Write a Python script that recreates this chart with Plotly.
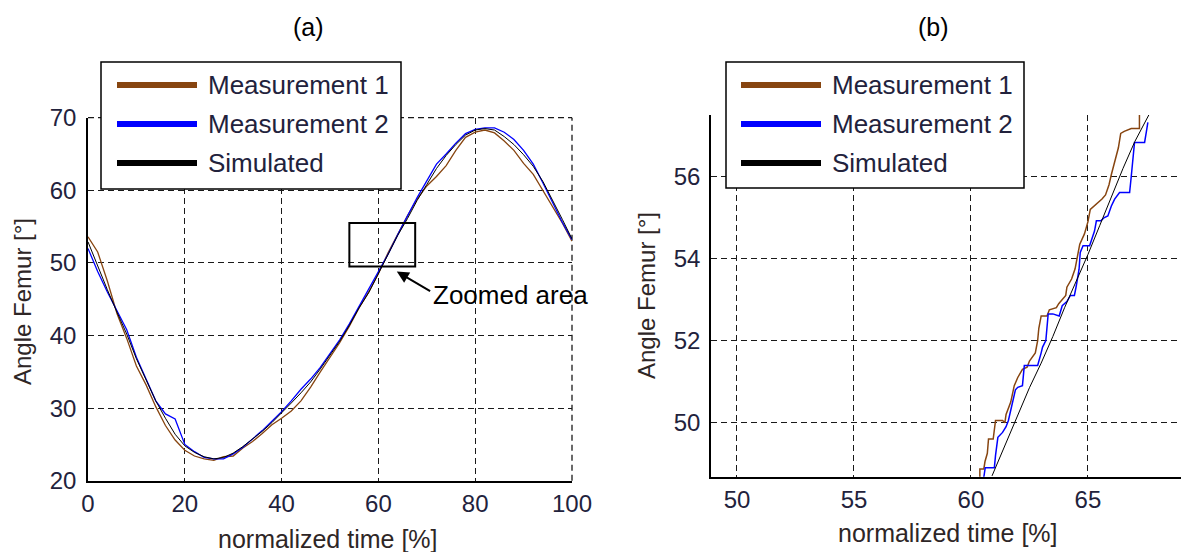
import plotly.graph_objects as go

# ---------------- data ----------------
series_names = ["Measurement 1", "Measurement 2", "Simulated"]
series_colors = ["#874510", "#0000FF", "#000000"]

time_pct = list(range(0, 101, 2))
simulated = [52.9, 49.5, 46.3, 43.2, 40.2, 36.8, 33.8, 31.0, 28.6, 26.4,
             24.8, 23.9, 23.3, 23.0, 23.2, 23.8, 24.7, 25.7, 26.8, 28.0,
             29.3, 30.7, 32.1, 33.6, 35.4, 37.3, 39.2, 41.4, 43.8, 45.9,
             48.6, 51.2, 53.8, 56.1, 58.6, 60.8, 63.0, 64.8, 66.3, 67.6,
             68.3, 68.5, 68.3, 67.4, 66.3, 64.9, 63.3, 61.2, 58.7, 56.0, 53.3]
measurement1 = [53.6, 51.5, 47.5, 43.0, 39.6, 35.8, 33.2, 30.2, 27.6, 25.6,
                24.2, 23.4, 23.0, 22.8, 23.3, 23.4, 24.5, 25.4, 26.5, 27.7,
                28.6, 29.6, 31.0, 32.9, 35.0, 37.0, 39.0, 41.3, 43.8, 46.0,
                48.5, 51.4, 54.0, 56.5, 58.8, 60.6, 61.9, 63.4, 65.5, 67.3,
                68.0, 68.3, 67.9, 66.8, 65.5, 63.7, 62.2, 60.0, 57.8, 55.5, 53.0]
measurement2 = [52.0, 48.8, 46.0, 43.4, 40.8, 37.0, 34.1, 31.0, 29.2, 28.5,
                25.0, 24.0, 23.2, 23.0, 23.0, 23.7, 24.6, 25.7, 26.9, 28.2,
                29.5, 31.0, 32.6, 34.0, 35.6, 37.5, 39.4, 41.6, 44.0, 46.4,
                48.6, 51.2, 53.9, 56.5, 59.0, 61.3, 63.6, 65.0, 66.5, 67.8,
                68.4, 68.6, 68.6, 68.0, 67.0, 65.5, 63.6, 61.0, 58.2, 55.6, 53.2]

# zoomed panel (b)
zoom_time_sim = [60.9, 61.5, 62.0, 62.5, 63.0, 63.5, 64.0, 64.5, 65.0, 65.5,
                 66.0, 66.5, 67.0, 67.6]
zoom_sim = [48.7, 49.5, 50.2, 50.85, 51.45, 52.1, 52.8, 53.45, 54.1, 54.8,
            55.5, 56.2, 56.85, 57.5]
zoom_time_m1 = [60.38, 60.38, 60.55, 60.6, 60.7, 60.75, 60.95, 61.05, 61.35,
                61.45, 61.5, 61.7, 61.85, 62.0, 62.2, 62.4, 62.5, 62.75, 62.85,
                62.9, 63.0, 63.25, 63.35, 63.65, 63.75, 63.9, 64.05, 64.1, 64.3,
                64.45, 64.55, 64.65, 64.85, 65.0, 65.1, 65.3, 65.6, 65.75, 65.9,
                66.0, 66.15, 66.3, 66.4, 66.55, 66.85, 67.2, 67.2]
zoom_m1 = [48.5, 48.87, 48.87, 49.05, 49.25, 49.6, 49.6, 50.05, 50.05,
           50.0, 50.2, 50.5, 50.9, 51.1, 51.3, 51.35, 51.5, 51.7, 52.0,
           52.3, 52.6, 52.6, 52.75, 52.8, 52.9, 53.0, 53.1, 53.3, 53.5,
           53.75, 54.1, 54.35, 54.6, 54.9, 55.2, 55.3, 55.45, 55.55, 55.8,
           56.05, 56.35, 56.7, 57.05, 57.1, 57.17, 57.17, 57.55]
zoom_time_m2 = [60.53, 60.55, 60.61, 61.0, 61.05, 61.15, 61.35, 61.5, 61.6,
                61.75, 61.9, 62.0, 62.2, 62.28, 62.85, 63.0, 63.06, 63.2, 63.3,
                63.5, 63.77, 63.9, 64.1, 64.25, 64.42, 64.5, 64.62, 64.67, 64.79,
                65.07, 65.28, 65.36, 65.55, 65.7, 65.85, 66.0, 66.14, 66.35,
                66.78, 66.85, 66.92, 66.99, 67.14, 67.42, 67.49, 67.56]
zoom_m2 = [48.5, 48.67, 48.9, 48.9, 49.2, 49.64, 49.76, 49.9, 50.05,
           50.4, 50.8, 50.86, 50.9, 51.39, 51.39, 51.7, 51.84, 52.0, 52.65,
           52.65, 52.6, 52.85, 52.95, 53.1, 53.1, 53.33, 53.74, 54.15, 54.31,
           54.31, 54.67, 54.92, 54.92, 55.0, 55.04, 55.28, 55.45, 55.61,
           55.61, 56.0, 56.34, 56.83, 56.83, 56.83, 57.07, 57.32]

# zoom box drawn in panel (a) and arrow
zoom_box_x = [54.0, 67.6]
zoom_box_y = [49.5, 55.5]

# ---------------- layout helpers ----------------
W, H = 1189, 552
OFF = 8          # page body margin of the saved html page
FONT = "Liberation Sans"
TICK_COLOR = "#22223c"
TITLE_COLOR = "#2e2626"
GRID_COLOR = "#1a1a1a"
GRID_DASH = "6px,4px"


def px(x):
    return (x - OFF) / W


def py(y):
    return 1 - (y - OFF) / H


fig = go.Figure()

# panel (a)
for name, col, ys, w in zip(series_names, series_colors,
                            [measurement1, measurement2, simulated], [1.3, 1.3, 1.0]):
    fig.add_trace(go.Scatter(x=time_pct, y=ys, mode="lines", name=name,
                             line=dict(color=col, width=w),
                             xaxis="x", yaxis="y", showlegend=False))

# panel (b)
for name, col, xs, ys, w in zip(series_names, series_colors,
                                [zoom_time_m1, zoom_time_m2, zoom_time_sim],
                                [zoom_m1, zoom_m2, zoom_sim], [1.5, 1.5, 1.0]):
    fig.add_trace(go.Scatter(x=xs, y=ys, mode="lines", name=name,
                             line=dict(color=col, width=w),
                             xaxis="x2", yaxis="y2", showlegend=False))

axis_common = dict(
    showline=True, linecolor="black", linewidth=1.5, mirror=False,
    showgrid=True, gridcolor=GRID_COLOR, gridwidth=1.3, griddash=GRID_DASH,
    zeroline=False, ticks="", automargin=False,
    tickfont=dict(family=FONT, size=24, color=TICK_COLOR),
)

fig.update_layout(
    width=W, height=H,
    margin=dict(l=0, r=0, t=0, b=0, pad=0, autoexpand=False),
    paper_bgcolor="white", plot_bgcolor="white",
    showlegend=False,
    xaxis=dict(axis_common, domain=[px(88), px(572)], range=[0, 100],
               tickvals=[0, 20, 40, 60, 80, 100], anchor="y",
               ticklabelstandoff=1),
    yaxis=dict(axis_common, domain=[py(480.7), py(117.7)], range=[20, 70],
               tickvals=[20, 30, 40, 50, 60, 70], anchor="x",
               ticklabelstandoff=5),
    xaxis2=dict(axis_common, domain=[px(711), 1.0], range=[48.89, 69.66],
                tickvals=[50, 55, 60, 65], anchor="y2",
                ticklabelstandoff=1),
    yaxis2=dict(axis_common, domain=[py(476.7), py(115)], range=[48.68, 57.5],
                tickvals=[50, 52, 54, 56], anchor="x2",
                ticklabelstandoff=4),
)

shapes = []
annotations = []

# dashed grid lines on the open top / right edges of panel (a)
shapes.append(dict(type="line", xref="x domain", yref="y domain",
                   x0=0, x1=1, y0=1, y1=1, layer="below",
                   line=dict(color=GRID_COLOR, width=1.3, dash=GRID_DASH)))
shapes.append(dict(type="line", xref="x domain", yref="y domain",
                   x0=1, x1=1, y0=0, y1=1, layer="below",
                   line=dict(color=GRID_COLOR, width=1.3, dash=GRID_DASH)))

# zoom rectangle in (a)
shapes.append(dict(type="rect", xref="x", yref="y",
                   x0=zoom_box_x[0], x1=zoom_box_x[1],
                   y0=zoom_box_y[0], y1=zoom_box_y[1],
                   line=dict(color="black", width=2), fillcolor="rgba(0,0,0,0)"))
annotations.append(dict(xref="x", yref="y", axref="x", ayref="y",
                        x=63.8, y=48.8, ax=71.0, ay=46.0, text="",
                        showarrow=True, arrowhead=2, arrowsize=1.2,
                        arrowwidth=2, arrowcolor="black"))
annotations.append(dict(xref="x", yref="y", x=70.9, y=45.55, text="Zoomed area",
                        showarrow=False, xanchor="left", yanchor="middle",
                        font=dict(family=FONT, size=26, color="black")))

# panel titles
for label, cx in [("(a)", 308), ("(b)", 933)]:
    annotations.append(dict(xref="paper", yref="paper", x=px(cx), y=py(27),
                            text=label, showarrow=False,
                            xanchor="center", yanchor="middle",
                            font=dict(family=FONT, size=25, color="black")))

# axis titles
for cx, cy in [(328, 539), (948, 533)]:
    annotations.append(dict(xref="paper", yref="paper", x=px(cx), y=py(cy),
                            text="normalized time [%]", showarrow=False,
                            xanchor="center", yanchor="middle",
                            font=dict(family=FONT, size=25, color=TITLE_COLOR)))
for cx, cy in [(22, 302), (646, 296)]:
    annotations.append(dict(xref="paper", yref="paper", x=px(cx), y=py(cy),
                            text="Angle Femur [°]", showarrow=False, textangle=-90,
                            xanchor="center", yanchor="middle",
                            font=dict(family=FONT, size=24, color=TITLE_COLOR)))

# legends (drawn like the MATLAB legend boxes)
legend_boxes = [
    dict(x0=101, x1=401, y0=62, y1=189, lx0=117, lx1=197, tx=206),
    dict(x0=726, x1=1024, y0=62, y1=188, lx0=741, lx1=821, tx=830),
]
row_y = [85, 124, 163]
for box in legend_boxes:
    shapes.append(dict(type="rect", xref="paper", yref="paper",
                       x0=px(box["x0"]), x1=px(box["x1"]),
                       y0=py(box["y1"]), y1=py(box["y0"]),
                       line=dict(color="black", width=1.5), fillcolor="white",
                       layer="above"))
    for name, col, ry in zip(series_names, series_colors, row_y):
        shapes.append(dict(type="line", xref="paper", yref="paper",
                           x0=px(box["lx0"]), x1=px(box["lx1"]),
                           y0=py(ry), y1=py(ry),
                           line=dict(color=col, width=6), layer="above"))
        annotations.append(dict(xref="paper", yref="paper",
                                x=px(box["tx"]), y=py(ry), text=name,
                                showarrow=False, xanchor="left", yanchor="middle",
                                font=dict(family=FONT, size=26, color=TICK_COLOR)))

fig.update_layout(shapes=shapes, annotations=annotations)

fig.write_html("out.html")
